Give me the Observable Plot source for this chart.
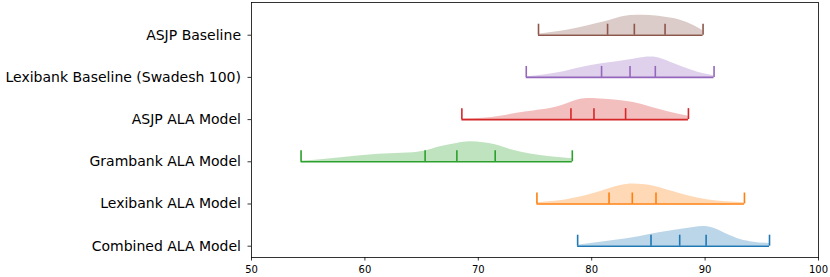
<!DOCTYPE html>
<html>
<head>
<meta charset="utf-8">
<script src="https://cdn.jsdelivr.net/npm/d3@7"></script>
<script src="https://cdn.jsdelivr.net/npm/@observablehq/plot@0.6"></script>
<style>
  html, body { margin: 0; padding: 0; background: white; }
  svg { display: block; }
</style>
</head>
<body>
<div id="chart"></div>
<script>
// Categories, bottom to top
const categories = [
  "Combined ALA Model",
  "Lexibank ALA Model",
  "Grambank ALA Model",
  "ASJP ALA Model",
  "Lexibank Baseline (Swadesh 100)",
  "ASJP Baseline"
];
const colors = ["#1f77b4", "#ff7f0e", "#2ca02c", "#d62728", "#9467bd", "#8c564b"];

// Summary statistics (min, quartiles, max)
const mins    = [78.76, 75.17, 54.37, 68.55, 74.23, 75.31];
const q1s     = [85.23, 81.53, 65.31, 78.17, 80.87, 81.40];
const medians = [87.76, 83.58, 68.11, 80.20, 83.38, 83.76];
const q3s     = [90.09, 85.67, 71.49, 82.99, 85.61, 86.47];
const maxs    = [95.68, 93.47, 78.29, 88.53, 90.79, 89.82];

// Density profiles (x value, relative height)
const combinedX = [78.76, 80.76, 83.11, 85.23, 86.64, 87.76, 88.99, 89.88, 90.76, 91.94, 93.12, 94.29, 95.68];
const combinedH = [0.024, 0.095, 0.174, 0.284, 0.348, 0.395, 0.442, 0.466, 0.427, 0.284, 0.158, 0.095, 0.063];

const lexibankX = [75.17, 76.79, 78.55, 80.03, 81.53, 82.67, 83.58, 84.73, 85.67, 87.09, 88.55, 90.32, 91.79, 93.47];
const lexibankH = [0.032, 0.063, 0.142, 0.237, 0.363, 0.442, 0.474, 0.458, 0.411, 0.300, 0.190, 0.095, 0.055, 0.032];

const grambankX = [54.37, 56.34, 58.10, 60.17, 62.22, 64.28, 65.31, 66.64, 68.11, 69.29, 70.46, 71.49, 72.82, 74.58, 76.35, 78.29];
const grambankH = [0.016, 0.055, 0.103, 0.158, 0.190, 0.213, 0.253, 0.355, 0.434, 0.474, 0.450, 0.403, 0.292, 0.182, 0.118, 0.071];

const asjpAlaX = [68.55, 70.46, 71.93, 73.40, 74.87, 76.35, 77.52, 78.70, 79.58, 80.76, 82.23, 83.70, 85.17, 86.64, 88.53];
const asjpAlaH = [0.016, 0.032, 0.079, 0.150, 0.205, 0.261, 0.348, 0.458, 0.498, 0.490, 0.458, 0.403, 0.300, 0.190, 0.079];

const lexBaseX = [74.23, 75.76, 77.52, 79.29, 80.87, 82.23, 83.38, 84.58, 85.32, 86.05, 87.23, 88.70, 89.88, 90.79];
const lexBaseH = [0.016, 0.055, 0.134, 0.245, 0.324, 0.371, 0.419, 0.474, 0.482, 0.450, 0.332, 0.182, 0.087, 0.040];

const asjpBaseX = [75.31, 76.94, 78.70, 80.47, 81.64, 82.82, 84.00, 85.17, 86.64, 87.82, 88.99, 89.82];
const asjpBaseH = [0.024, 0.079, 0.166, 0.276, 0.355, 0.442, 0.474, 0.466, 0.419, 0.355, 0.229, 0.103];

const xTicks = [50, 60, 70, 80, 90, 100];

// Build tables
const profiles = [
  [combinedX, combinedH],
  [lexibankX, lexibankH],
  [grambankX, grambankH],
  [asjpAlaX, asjpAlaH],
  [lexBaseX, lexBaseH],
  [asjpBaseX, asjpBaseH]
];
const density = [];
profiles.forEach(([xs, hs], row) => {
  xs.forEach((x, j) => density.push({name: categories[row], row, x, h: hs[j]}));
});
const summary = categories.map((name, row) => ({
  name, row, min: mins[row], max: maxs[row]
}));
const marks = [];
categories.forEach((name, row) => {
  [mins[row], q1s[row], medians[row], q3s[row], maxs[row]].forEach(v => marks.push({name, row, v}));
});

const tickH = 0.26;

const chart = Plot.plot({
  width: 830,
  height: 277,
  marginLeft: 251,
  marginRight: 12,
  marginTop: 2,
  marginBottom: 20,
  style: {fontFamily: "DejaVu Sans", background: "white", color: "black"},
  x: {domain: [50, 100]},
  y: {domain: [-0.268, 5.775]},
  color: {domain: categories, range: colors},
  marks: [
    Plot.areaY(density, {
      x: "x", y1: "row", y2: d => d.row + d.h, z: "name",
      fill: "name", fillOpacity: 0.3, curve: "monotone-x"
    }),
    Plot.ruleY(summary, {x1: "min", x2: "max", y: "row", stroke: "name", strokeWidth: 1.6}),
    Plot.ruleX(marks, {x: "v", y1: "row", y2: d => d.row + tickH, stroke: "name", strokeWidth: 1.6}),
    Plot.frame({stroke: "black", strokeWidth: 0.8}),
    Plot.axisX({ticks: xTicks, tickSize: 3.5, tickPadding: 5, fontSize: 10, label: null, strokeWidth: 0.8}),
    Plot.axisY({
      ticks: d3.range(categories.length),
      tickFormat: i => categories[i],
      tickSize: 3.5, tickPadding: 7, fontSize: 14, label: null, strokeWidth: 0.8
    })
  ]
});
document.getElementById("chart").appendChild(chart);
</script>
</body>
</html>
